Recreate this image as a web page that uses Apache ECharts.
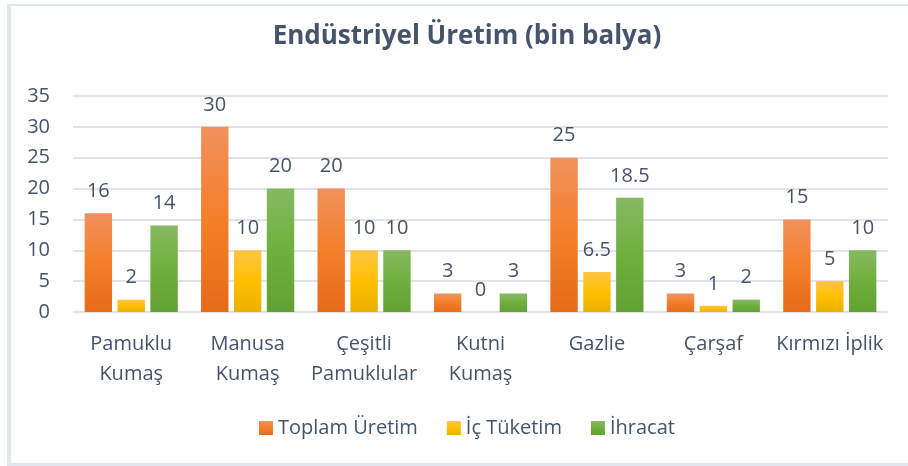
<!DOCTYPE html>
<html>
<head>
<meta charset="utf-8">
<script src="https://cdn.jsdelivr.net/npm/echarts@6/dist/echarts.min.js"></script>
<style>html,body{margin:0;padding:0;background:#fff;}#c{width:908px;height:466px;}</style>
</head>
<body>
<div id="c"></div>
<script>
const categories = ['Pamuklu\nKumaş', 'Manusa\nKumaş', 'Çeşitli\nPamuklular', 'Kutni\nKumaş', 'Gazlie', 'Çarşaf', 'Kırmızı İplik'];
const seriesNames = ['Toplam Üretim', 'İç Tüketim', 'İhracat'];
const toplamUretim = [16, 30, 20, 3, 25, 3, 15];
const icTuketim = [2, 10, 10, 0, 6.5, 1, 5];
const ihracat = [14, 20, 10, 3, 18.5, 2, 10];
const yTicks = [0, 5, 10, 15, 20, 25, 30, 35];

const txt = '#44546a';
const font = 'Open Sans';
function grad(a, b, c) {
  return new echarts.graphic.LinearGradient(0, 0, 0, 1, [
    {offset: 0, color: a}, {offset: 0.5, color: b}, {offset: 1, color: c}
  ]);
}
const colors = [
  grad('#f1915c', '#f47f2a', '#e46b1a'),
  grad('#ffc544', '#ffc000', '#e9b000'),
  grad('#86b962', '#6fb03c', '#62a033')
];
const datasets = [toplamUretim, icTuketim, ihracat];

const chart = echarts.init(document.getElementById('c'), null, {renderer: 'canvas'});
chart.setOption({
  animation: false,
  backgroundColor: '#fff',
  textStyle: {fontFamily: font},
  title: {
    text: 'Endüstriyel Üretim (bin balya)',
    left: 462, top: 19, textAlign: 'center',
    textStyle: {fontFamily: font, fontSize: 26, fontWeight: 'bold', color: txt}
  },
  legend: {
    left: 254, top: 413,
    itemWidth: 14, itemHeight: 14, itemGap: 29,
    icon: 'rect',
    textStyle: {fontFamily: font, fontSize: 20, color: txt},
    data: seriesNames
  },
  grid: {left: 73, right: 20, top: 96, bottom: 154, containLabel: false},
  xAxis: {
    type: 'category',
    data: categories,
    axisLine: {show: false},
    axisTick: {show: false},
    axisLabel: {fontFamily: font, fontSize: 20, color: txt, lineHeight: 30, margin: 17, interval: 0}
  },
  yAxis: {
    type: 'value', min: yTicks[0], max: yTicks[yTicks.length - 1], interval: 5,
    axisLine: {show: false}, axisTick: {show: false},
    axisLabel: {fontFamily: font, fontSize: 20, color: txt, margin: 23},
    splitLine: {lineStyle: {color: '#e0e4ea', width: 2}}
  },
  series: datasets.map((d, i) => ({
    name: seriesNames[i],
    type: 'bar',
    data: d,
    barGap: '20%',
    barCategoryGap: '20%',
    itemStyle: {color: colors[i]},
    label: {show: true, position: 'top', distance: 12, fontFamily: font, fontSize: 20, color: txt}
  })),
  graphic: [
    {type: 'rect', shape: {x: 7, y: 4, width: 4, height: 462}, style: {fill: '#e2e7ee'}, silent: true},
    {type: 'rect', shape: {x: 7, y: 4, width: 901, height: 2}, style: {fill: '#e2e7ee'}, silent: true},
    {type: 'rect', shape: {x: 7, y: 463, width: 901, height: 3}, style: {fill: '#e2e7ee'}, silent: true}
  ]
});
</script>
</body>
</html>
